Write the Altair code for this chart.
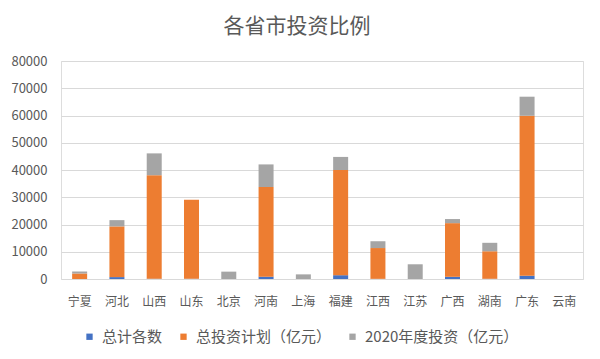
import altair as alt
import pandas as pd

categories = ["宁夏", "河北", "山西", "山东", "北京", "河南", "上海", "福建", "江西", "江苏", "广西", "湖南", "广东", "云南"]
total_count = [30, 700, 100, 80, 0, 850, 0, 1400, 60, 0, 800, 80, 1200, 0]
total_plan = [2000, 18600, 38000, 29000, 0, 32900, 0, 38600, 11300, 0, 19700, 10100, 58700, 0]
invest_2020 = [700, 2300, 8000, 0, 2700, 8300, 1700, 4800, 2500, 5400, 1500, 3100, 7000, 0]

series_names = ["总计各数", "总投资计划（亿元）", "2020年度投资（亿元）"]
series_colors = ["#4472C4", "#ED7D31", "#A5A5A5"]
y_ticks = [0, 10000, 20000, 30000, 40000, 50000, 60000, 70000, 80000]

rows = []
for i, c in enumerate(categories):
    for k, vals in enumerate([total_count, total_plan, invest_2020]):
        rows.append({"省份": c, "系列": series_names[k], "值": vals[i], "序": k})
df = pd.DataFrame(rows)

FONT = "Noto Sans CJK SC"
GREY = "#595959"

chart = alt.Chart(df).mark_bar(size=15).encode(
    x=alt.X("省份:N", sort=categories, title=None,
            scale=alt.Scale(paddingInner=0, paddingOuter=0),
            axis=alt.Axis(labelAngle=0, domain=False, ticks=False, labelPadding=17,
                          labelFontSize=12, labelColor=GREY, labelFont=FONT)),
    y=alt.Y("值:Q", stack="zero", title=None,
            scale=alt.Scale(domain=[0, 80000], nice=False),
            axis=alt.Axis(values=y_ticks, domain=False, ticks=False, labelPadding=14,
                          labelFontSize=13, labelColor=GREY, labelFont=FONT,
                          gridColor="#D9D9D9", gridWidth=1, format="d")),
    color=alt.Color("系列:N",
                    scale=alt.Scale(domain=series_names, range=series_colors),
                    legend=alt.Legend(title=None, orient="none", direction="horizontal",
                                      legendX=21, legendY=268, symbolType="square",
                                      symbolSize=40, symbolStrokeWidth=0, labelFontSize=15,
                                      labelColor=GREY, labelFont=FONT, labelOffset=5,
                                      columnPadding=13, padding=0, labelLimit=300,
                                      labelExpr="datum.label == '总投资计划（亿元）' ? datum.label + '\u2003' : datum.label")),
    order=alt.Order("序:Q", sort="ascending"),
).properties(
    width=522,
    height=218,
    title=alt.TitleParams("各省市投资比例", fontSize=21, color=GREY, font=FONT,
                          fontWeight="normal", anchor="middle", frame="bounds", offset=18),
    padding={"left": 2, "top": 8, "right": 5, "bottom": 5},
).configure_view(stroke=None).configure(background="white")

chart.save("out.html", embed_options={"renderer": "svg", "actions": False})
